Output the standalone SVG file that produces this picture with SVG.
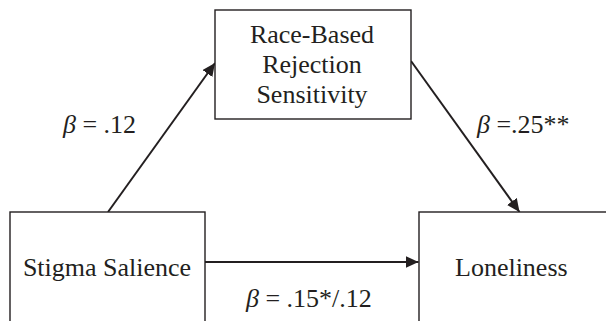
<svg xmlns="http://www.w3.org/2000/svg" width="606" height="321" viewBox="0 0 606 321">
<style>
.box{fill:#fff;stroke:#231f20;stroke-width:1.4}
.t{font-family:"Liberation Serif","Times New Roman",serif;font-size:26px;fill:#231f20}
.c{text-anchor:middle}
.edge{stroke:#231f20;stroke-width:2;fill:none}
</style>
<defs>
<marker id="ah" viewBox="0 0 13 12" refX="13" refY="6" markerWidth="13" markerHeight="12" markerUnits="userSpaceOnUse" orient="auto">
<path d="M0,0 L13,6 L0,12 Z" fill="#231f20"/>
</marker>
</defs>
<rect width="606" height="321" fill="#fff"/>
<g id="connectors">
<line class="edge" x1="108" y1="212" x2="215" y2="63" marker-end="url(#ah)"/>
<line class="edge" x1="411" y1="61" x2="519.5" y2="212" marker-end="url(#ah)"/>
<line class="edge" x1="205" y1="262" x2="418.5" y2="262" marker-end="url(#ah)"/>
<text class="t" x="63" y="133"><tspan font-style="italic">β</tspan> = .12</text>
<text class="t" x="477" y="133"><tspan font-style="italic">β</tspan> =.25**</text>
<text class="t" x="246" y="307"><tspan font-style="italic">β</tspan> = .15*/.12</text>
</g>
<g id="node-rejection">
<rect class="box" x="215" y="10" width="196" height="109"/>
<text class="t c" x="312" y="43">Race-Based</text>
<text class="t c" x="312" y="73">Rejection</text>
<text class="t c" x="312" y="103">Sensitivity</text>
</g>
<g id="node-stigma">
<rect class="box" x="10" y="212" width="195" height="115"/>
<text class="t c" x="107" y="276">Stigma Salience</text>
</g>
<g id="node-loneliness">
<rect class="box" x="419" y="212" width="200" height="115"/>
<text class="t" x="455" y="276">Loneliness</text>
</g>
</svg>
